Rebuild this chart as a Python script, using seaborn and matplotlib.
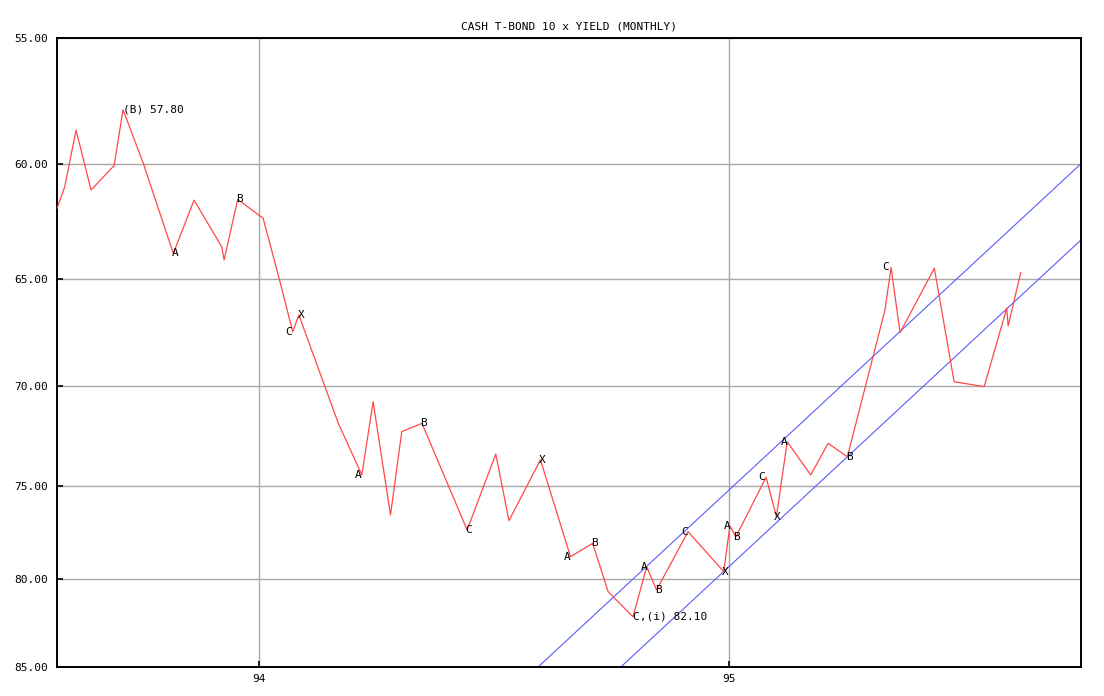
import numpy as np
import pandas as pd
import matplotlib
matplotlib.use("Agg")
import matplotlib.pyplot as plt
from matplotlib.ticker import FixedLocator, FixedFormatter, NullLocator
import seaborn as sns

# ---- data (decimal year, 10 x yield) ----
dates = [93.570, 93.587, 93.611, 93.643, 93.692, 93.711, 93.754, 93.818, 93.862, 93.921,
         93.926, 93.955, 94.009, 94.043, 94.072, 94.085, 94.169, 94.219, 94.243, 94.280,
         94.304, 94.347, 94.443, 94.504, 94.532, 94.599, 94.663, 94.710, 94.743, 94.796,
         94.825, 94.846, 94.913, 94.989, 95.002, 95.015, 95.079, 95.101, 95.124, 95.174,
         95.211, 95.252, 95.332, 95.345, 95.364, 95.437, 95.479, 95.543, 95.591, 95.594,
         95.621]
yields = [61.92, 60.96, 58.62, 61.10, 60.08, 57.80, 59.98, 63.84, 61.53, 63.55,
          64.13, 61.50, 62.31, 64.95, 67.40, 66.62, 71.81, 74.42, 70.74, 76.51,
          72.22, 71.81, 77.31, 73.35, 76.81, 73.65, 78.75, 78.03, 80.68, 82.10,
          79.30, 80.59, 77.40, 79.57, 77.10, 77.67, 74.54, 76.60, 72.73, 74.42,
          72.81, 73.49, 66.39, 64.46, 67.44, 64.50, 69.77, 70.01, 66.31, 67.13,
          64.68]

# wave labels: vertex index and text
label_idx = [5, 7, 11, 14, 15, 17, 21, 22, 25, 26, 27, 29, 30, 31, 32, 33, 34, 35, 36, 37, 38, 41, 43]
label_txt = ["(B) 57.80", "A", "B", "C", "X", "A", "B", "C", "X", "A", "B", "C,(i) 82.10",
             "A", "B", "C", "X", "A", "B", "C", "X", "A", "B", "C"]

# channel lines
channel_x = [94.594, 95.749]
channel_upper = [85.0, 60.0]
channel_x2 = [94.770, 95.749]
channel_lower = [85.0, 63.25]

y_ticks = [55, 60, 65, 70, 75, 80, 85]
x_ticks = [94, 95]
x_ticklabels = ["94", "95"]
title = "CASH T-BOND 10 x YIELD (MONTHLY)"

# ---- style ----
sns.set_style("white")
plt.rcParams['font.family'] = ['DejaVu Sans Mono', 'DejaVu Sans']

fig = plt.figure(figsize=(11.04, 6.96), dpi=100)
ax = fig.add_axes([57/1104, 1 - 667/696, (1081-57)/1104, (667-38)/696])

df = pd.DataFrame({"date": dates, "yield": yields})
sns.lineplot(data=df, x="date", y="yield", sort=False, estimator=None,
             color="#ff4848", linewidth=0.9, ax=ax, zorder=3)
sns.lineplot(x=channel_x, y=channel_upper, sort=False, estimator=None,
             color="#5a5aff", linewidth=0.8, ax=ax, zorder=2)
sns.lineplot(x=channel_x2, y=channel_lower, sort=False, estimator=None,
             color="#5a5aff", linewidth=0.8, ax=ax, zorder=2)

ax.set_yscale("log")
ax.set_ylim(85, 55)
ax.set_xlim(93.5705, 95.749)

ax.yaxis.set_major_locator(FixedLocator(y_ticks))
ax.yaxis.set_major_formatter(FixedFormatter([f"{v:.2f}" for v in y_ticks]))
ax.yaxis.set_minor_locator(NullLocator())
ax.xaxis.set_major_locator(FixedLocator(x_ticks))
ax.xaxis.set_major_formatter(FixedFormatter(x_ticklabels))
ax.xaxis.set_minor_locator(NullLocator())

ax.grid(True, color="#a8a8a8", linewidth=1.0, zorder=0)
ax.set_axisbelow(True)
for s in ax.spines.values():
    s.set_color("black")
    s.set_linewidth(1.4)
ax.tick_params(axis="both", direction="in", length=4, width=1.2, color="black",
               labelsize=8, labelcolor="black")
ax.tick_params(axis="y", pad=6.5, left=True)
ax.tick_params(axis="x", pad=5, bottom=True)
ax.set_xlabel("")
ax.set_ylabel("")
ax.set_title(title, fontsize=8, pad=6, color="black")

# label offsets (pixels) and alignment
dx_px = {"(B) 57.80": 0, "C,(i) 82.10": 0}
offsets = [0, 2, 2, -4, 2, -4, 2, 2, 2, -3, 2, 0, -3, 2, -3, 2, -3, 1, -4, 1, -3, 2, -5]
for i, t, dx in zip(label_idx, label_txt, offsets):
    ha = "left" if len(t) > 1 else "center"
    ax.annotate(t, xy=(dates[i], yields[i]), xytext=(dx * 0.72, 0),
                textcoords="offset points", ha=ha, va="center",
                fontsize=8, color="black", zorder=4)

fig.savefig("out.png", dpi=100)
